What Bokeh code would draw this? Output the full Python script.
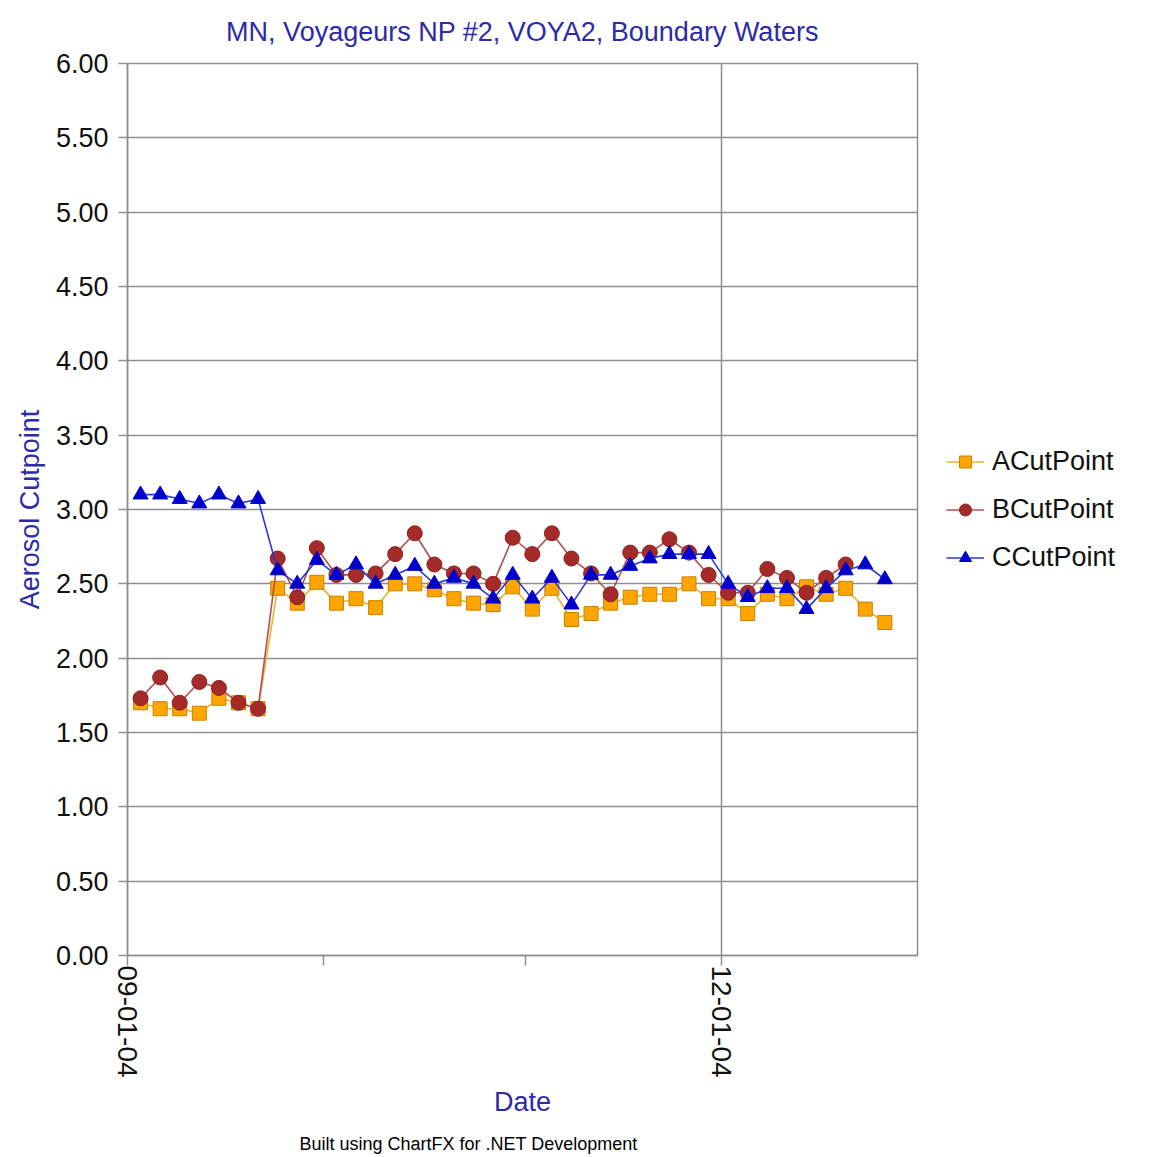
import pandas as pd
import numpy as np
from bokeh.plotting import figure
from bokeh.models import (FixedTicker, SingleIntervalTicker, NumeralTickFormatter, Legend,
                          LegendItem, Title, Range1d)
from bokeh.embed import file_html
from bokeh.resources import INLINE

# ---------------- data ----------------
title_text = "MN, Voyageurs NP #2, VOYA2, Boundary Waters"
footer_text = "Built using ChartFX for .NET Development"

dates = ["2004-09-03", "2004-09-06", "2004-09-09", "2004-09-12", "2004-09-15",
         "2004-09-18", "2004-09-21", "2004-09-24", "2004-09-27", "2004-09-30",
         "2004-10-03", "2004-10-06", "2004-10-09", "2004-10-12", "2004-10-15",
         "2004-10-18", "2004-10-21", "2004-10-24", "2004-10-27", "2004-10-30",
         "2004-11-02", "2004-11-05", "2004-11-08", "2004-11-11", "2004-11-14",
         "2004-11-17", "2004-11-20", "2004-11-23", "2004-11-26", "2004-11-29",
         "2004-12-02", "2004-12-05", "2004-12-08", "2004-12-11", "2004-12-14",
         "2004-12-17", "2004-12-20", "2004-12-23", "2004-12-26"]

a_cut = [1.70, 1.66, 1.66, 1.63, 1.73, 1.70, 1.66, 2.47, 2.37, 2.51,
         2.37, 2.40, 2.34, 2.50, 2.50, 2.46, 2.40, 2.37, 2.36, 2.48,
         2.33, 2.47, 2.26, 2.30, 2.37, 2.41, 2.43, 2.43, 2.50, 2.40,
         2.40, 2.30, 2.43, 2.40, 2.48, 2.43, 2.47, 2.33, 2.24]

b_cut = [1.73, 1.87, 1.70, 1.84, 1.80, 1.70, 1.66, 2.67, 2.41, 2.74,
         2.56, 2.56, 2.57, 2.70, 2.84, 2.63, 2.57, 2.57, 2.50, 2.81,
         2.70, 2.84, 2.67, 2.57, 2.43, 2.71, 2.71, 2.80, 2.71, 2.56,
         2.44, 2.44, 2.60, 2.54, 2.44, 2.54, 2.63, np.nan, np.nan]

c_cut = [3.10, 3.10, 3.07, 3.04, 3.10, 3.04, 3.07, 2.59, 2.50, 2.66,
         2.56, 2.63, 2.50, 2.56, 2.62, 2.50, 2.54, 2.50, 2.40, 2.56,
         2.40, 2.54, 2.36, 2.56, 2.56, 2.62, 2.67, 2.70, 2.70, 2.70,
         2.50, 2.41, 2.47, 2.47, 2.33, 2.47, 2.59, 2.63, 2.53]

series_names = ["ACutPoint", "BCutPoint", "CCutPoint"]

x_start, x_end = "2004-09-01", "2004-12-31"
tick_dates = ["2004-09-01", "2004-10-01", "2004-11-01", "2004-12-01"]
tick_labels = ["09-01-04", "", "", "12-01-04"]
grid_dates = ["2004-12-01"]

y_start, y_end, y_step = 0.0, 6.0, 0.5

# ---------------- helpers ----------------
def ms(d):
    return pd.Timestamp(d).value // 10**6

x = pd.to_datetime(dates)
FONT = "Liberation Sans"
GRID = "#8e8e8e"
BLUE_TXT = "#2b2ba8"

p = figure(frame_width=790, frame_height=892, x_axis_type="datetime",
           output_backend="svg", toolbar_location=None,
           x_range=Range1d(pd.Timestamp(x_start), pd.Timestamp(x_end)),
           y_range=Range1d(y_start, y_end),
           min_border_left=127, min_border_top=63,
           min_border_right=234, min_border_bottom=0)

p.background_fill_color = "white"
p.border_fill_color = "white"
p.outline_line_color = GRID
p.outline_line_width = 1.5

# title
p.title.text = title_text
p.title.align = "center"
p.title.vertical_align = "top"
p.title.text_font = FONT
p.title.text_font_size = "27px"
p.title.text_font_style = "normal"
p.title.text_color = BLUE_TXT
p.title.standoff = 29

# y axis
p.yaxis.ticker = SingleIntervalTicker(interval=y_step)
p.yaxis.formatter = NumeralTickFormatter(format="0.00")
p.yaxis.major_label_text_font = FONT
p.yaxis.major_label_text_font_size = "27px"
p.yaxis.major_label_text_color = "#111111"
p.yaxis.major_tick_out = 9
p.yaxis.major_tick_in = 0
p.yaxis.minor_tick_out = 0
p.yaxis.minor_tick_in = 0
p.yaxis.major_tick_line_color = GRID
p.yaxis.major_tick_line_width = 1.5
p.yaxis.axis_line_color = GRID
p.yaxis.axis_line_width = 1.5
p.yaxis.major_label_standoff = 10
p.yaxis.axis_label = "Aerosol Cutpoint"
p.yaxis.axis_label_text_font = FONT
p.yaxis.axis_label_text_font_size = "27px"
p.yaxis.axis_label_text_font_style = "normal"
p.yaxis.axis_label_text_color = BLUE_TXT
p.yaxis.axis_label_standoff = 8

# x axis
tick_ms = [ms(d) for d in tick_dates]
p.xaxis.ticker = FixedTicker(ticks=tick_ms)
p.xaxis.major_label_overrides = {t: lab for t, lab in zip(tick_ms, tick_labels)}
p.xaxis.major_label_orientation = "vertical"
p.xaxis.major_label_text_font = FONT
p.xaxis.major_label_text_font_size = "28px"
p.xaxis.major_label_text_color = "#111111"
p.xaxis.major_tick_out = 10
p.xaxis.major_tick_in = 0
p.xaxis.minor_tick_out = 0
p.xaxis.minor_tick_in = 0
p.xaxis.major_tick_line_color = GRID
p.xaxis.major_tick_line_width = 1.5
p.xaxis.axis_line_color = GRID
p.xaxis.axis_line_width = 1.5
p.xaxis.major_label_standoff = 0
p.xaxis.axis_label = "Date"
p.xaxis.axis_label_text_font = FONT
p.xaxis.axis_label_text_font_size = "27px"
p.xaxis.axis_label_text_font_style = "normal"
p.xaxis.axis_label_text_color = BLUE_TXT
p.xaxis.axis_label_standoff = 6

# grids
p.ygrid.ticker = SingleIntervalTicker(interval=y_step)
p.ygrid.grid_line_color = GRID
p.ygrid.grid_line_width = 1.5
p.xgrid.ticker = FixedTicker(ticks=[ms(d) for d in grid_dates])
p.xgrid.grid_line_color = GRID
p.xgrid.grid_line_width = 1.5

# series
styles = [
    dict(line="#f0b030", fill="#ffa500", edge="#c98000", marker="square", size=14),
    dict(line="#b05050", fill="#a52a2a", edge="#8a2020", marker="circle", size=15),
    dict(line="#2a3ad0", fill="#0000cd", edge="#0000cd", marker="triangle", size=15),
]
items = []
for name, vals, st in zip(series_names, [a_cut, b_cut, c_cut], styles):
    ln = p.line(x, vals, line_color=st["line"], line_width=1.6)
    sc = p.scatter(x, vals, marker=st["marker"], size=st["size"],
                   fill_color=st["fill"], line_color=st["edge"], line_width=1)
    items.append(LegendItem(label=name, renderers=[ln, sc]))

legend = Legend(items=items, location="center_left")
legend.label_text_font = FONT
legend.label_text_font_size = "27px"
legend.label_text_color = "#111111"
legend.glyph_width = 38
legend.glyph_height = 30
legend.label_height = 30
legend.spacing = 17
legend.padding = 8
legend.margin = 21
legend.label_standoff = 8
legend.border_line_alpha = 0
legend.background_fill_alpha = 0
p.add_layout(legend, "right")

# footer
footer = Title(text=footer_text, align="left", offset=172, standoff=24,
               vertical_align="bottom",
               text_font=FONT, text_font_size="18px", text_font_style="normal",
               text_color="#000000")
p.add_layout(footer, "below")

open("out.html", "w").write(file_html(p, INLINE))
